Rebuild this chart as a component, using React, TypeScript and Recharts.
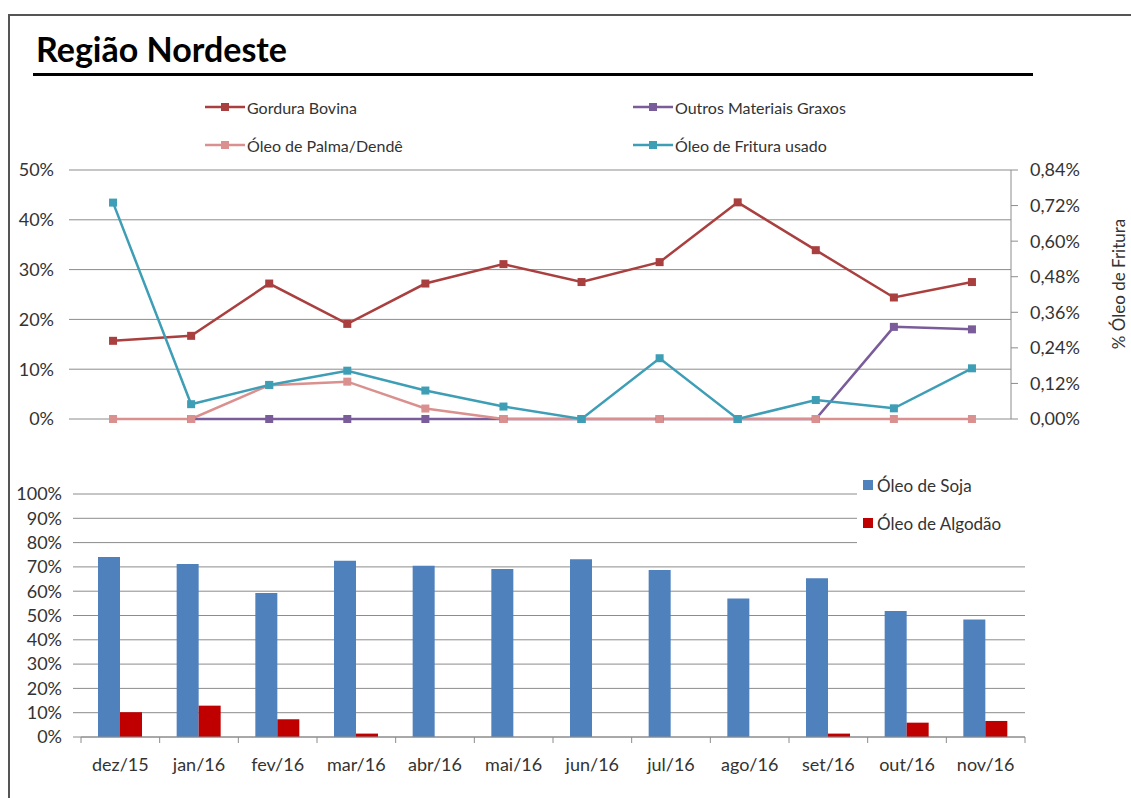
import React from 'react';
import { LineChart, Line, BarChart, Bar, XAxis, YAxis, CartesianGrid } from 'recharts';

const months = ['dez/15', 'jan/16', 'fev/16', 'mar/16', 'abr/16', 'mai/16', 'jun/16', 'jul/16', 'ago/16', 'set/16', 'out/16', 'nov/16'];

// top chart (% on left axis, Óleo de Fritura on right axis)
const gorduraBovina = [15.7, 16.7, 27.2, 19.1, 27.2, 31.1, 27.5, 31.5, 43.5, 33.9, 24.4, 27.5];
const outrosMateriais = [null, 0, 0, 0, 0, 0, 0, 0, 0, 0, 18.5, 18.0];
const palmaDende = [0, 0, 6.8, 7.5, 2.1, 0, 0, 0, 0, 0, 0, 0];
const frituraUsado = [0.73, 0.05, 0.115, 0.163, 0.096, 0.042, 0, 0.205, 0, 0.064, 0.036, 0.171];

// bottom chart
const oleoSoja = [74.1, 71.2, 59.3, 72.5, 70.5, 69.1, 73.1, 68.7, 57.0, 65.3, 51.9, 48.4];
const oleoAlgodao = [10.2, 12.9, 7.3, 1.4, 0, 0, 0, 0, 0, 1.4, 5.9, 6.6];

const leftTicks = [0, 10, 20, 30, 40, 50];
const rightTicks = [0, 0.12, 0.24, 0.36, 0.48, 0.6, 0.72, 0.84];
const barTicks = [0, 10, 20, 30, 40, 50, 60, 70, 80, 90, 100];

const lineSeries = [
  { key: 'gordura', name: 'Gordura Bovina', color: '#A9403F', axis: 'left' },
  { key: 'outros', name: 'Outros Materiais Graxos', color: '#7A5C9A', axis: 'left' },
  { key: 'palma', name: 'Óleo de Palma/Dendê', color: '#D9908E', axis: 'left' },
  { key: 'fritura', name: 'Óleo de Fritura usado', color: '#3E9EB6', axis: 'right' },
];

const lineData = months.map((m, i) => ({
  month: m,
  gordura: gorduraBovina[i],
  outros: outrosMateriais[i],
  palma: palmaDende[i],
  fritura: frituraUsado[i],
}));

const barData = months.map((m, i) => ({ month: m, soja: oleoSoja[i], algodao: oleoAlgodao[i] }));

const SOJA = '#4F81BD';
const ALGODAO = '#C00000';
const GRID = '#8c8c8c';
const TXT = '#333';
const FONT = "Lato, 'Open Sans', sans-serif";

const squareDot = (color: string) => (props: any) => {
  const { cx, cy, index, value } = props;
  if (value == null || cx == null || cy == null || isNaN(cy)) return <g key={index} />;
  return <rect key={index} x={cx - 4} y={cy - 4} width={8} height={8} fill={color} />;
};

const LINE_W = 1131;
const LINE_MARGIN = { top: 20, right: 40, bottom: 21, left: 14 };
const linePad = (LINE_W - LINE_MARGIN.left - LINE_MARGIN.right - 60 - 80) / months.length / 2;

const BAR_W = 1131;
const BAR_MARGIN = { top: 24, right: 106, bottom: 23, left: 11 };
const BAR_YAXIS_W = 70;
const X_TICK_SIZE = 6;
const X_TICK_MARGIN = 15;
const band = (BAR_W - BAR_MARGIN.left - BAR_MARGIN.right - BAR_YAXIS_W) / months.length;

const MonthTick = (props: any) => {
  const { x, y, payload, index } = props;
  const axisY = y - X_TICK_SIZE - X_TICK_MARGIN;
  return (
    <g>
      <line x1={x - band / 2} x2={x - band / 2} y1={axisY} y2={axisY + 6} stroke={GRID} />
      {index === months.length - 1 && (
        <line x1={x + band / 2} x2={x + band / 2} y1={axisY} y2={axisY + 6} stroke={GRID} />
      )}
      <text x={x} y={y} dy="0.71em" textAnchor="middle" fontSize={18} fill={TXT}>
        {payload.value}
      </text>
    </g>
  );
};

const fmtRight = (v: number) => `${v.toFixed(2).replace('.', ',')}%`;

export default function App() {
  return (
    <div style={{ position: 'absolute', left: 0, top: 0, width: 1131, height: 798, background: '#fff', fontFamily: FONT, color: TXT }}>
      {/* frame */}
      <div style={{ position: 'absolute', left: 8, top: 14, width: 1123, height: 1.5, background: '#555' }} />
      <div style={{ position: 'absolute', left: 8, top: 14, width: 1.5, height: 784, background: '#555' }} />

      {/* title */}
      <div style={{ position: 'absolute', left: 36, top: 29, fontSize: 34, fontWeight: 700, lineHeight: '40px', color: '#000' }}>
        Região Nordeste
      </div>
      <div style={{ position: 'absolute', left: 33, top: 73, width: 1000, height: 3, background: '#000' }} />

      {/* top legend */}
      {lineSeries.map((s, i) => {
        const left = i % 2 === 0 ? 205 : 633;
        const top = i < 2 ? 107 : 145;
        return (
          <div key={s.key} style={{ position: 'absolute', left, top: top - 10, height: 20, display: 'flex', alignItems: 'center' }}>
            <svg width={40} height={20}>
              <line x1={0} x2={40} y1={10} y2={10} stroke={s.color} strokeWidth={2.5} />
              <rect x={16} y={6} width={8} height={8} fill={s.color} />
            </svg>
            <span style={{ marginLeft: 2, fontSize: 16 }}>{s.name}</span>
          </div>
        );
      })}

      {/* top chart */}
      <div style={{ position: 'absolute', left: 0, top: 150 }}>
        <LineChart width={LINE_W} height={290} data={lineData} margin={LINE_MARGIN}>
          <CartesianGrid yAxisId="left" vertical={false} stroke={GRID} />
          <XAxis dataKey="month" hide padding={{ left: linePad, right: linePad }} />
          <YAxis
            yAxisId="left"
            domain={[0, 50]}
            ticks={leftTicks}
            interval={0}
            width={60}
            axisLine={false}
            tickLine={{ stroke: GRID }}
            tickSize={5}
            tickMargin={15}
            tick={{ fontSize: 18, fill: TXT }}
            tickFormatter={(v) => `${v}%`}
          />
          <YAxis
            yAxisId="right"
            orientation="right"
            domain={[0, 0.84]}
            ticks={rightTicks}
            interval={0}
            width={80}
            axisLine={{ stroke: GRID }}
            tickLine={{ stroke: GRID }}
            tickSize={7}
            tickMargin={12}
            tick={{ fontSize: 18, fill: TXT }}
            tickFormatter={fmtRight}
          />
          {lineSeries.map((s) => (
            <Line
              key={s.key}
              yAxisId={s.axis}
              type="linear"
              dataKey={s.key}
              name={s.name}
              stroke={s.color}
              strokeWidth={2.5}
              dot={squareDot(s.color)}
              activeDot={false}
              isAnimationActive={false}
            />
          ))}
        </LineChart>
      </div>
      <div
        style={{
          position: 'absolute',
          left: 1118,
          top: 284,
          fontSize: 17,
          whiteSpace: 'nowrap',
          transform: 'translate(-50%, -50%) rotate(-90deg)',
        }}
      >
        % Óleo de Fritura
      </div>

      {/* bottom chart */}
      <div style={{ position: 'absolute', left: 0, top: 470 }}>
        <BarChart width={BAR_W} height={330} data={barData} margin={BAR_MARGIN} barGap={0} barSize={22}>
          <CartesianGrid vertical={false} stroke={GRID} />
          <XAxis
            dataKey="month"
            height={40}
            axisLine={{ stroke: GRID }}
            tickLine={false}
            tickSize={X_TICK_SIZE}
            tickMargin={X_TICK_MARGIN}
            tick={<MonthTick />}
            interval={0}
          />
          <YAxis
            domain={[0, 100]}
            ticks={barTicks}
            interval={0}
            width={BAR_YAXIS_W}
            axisLine={false}
            tickLine={{ stroke: GRID }}
            tickSize={8}
            tickMargin={11}
            tick={{ fontSize: 18, fill: TXT }}
            tickFormatter={(v) => `${v}%`}
          />
          <Bar dataKey="soja" name="Óleo de Soja" fill={SOJA} isAnimationActive={false} />
          <Bar dataKey="algodao" name="Óleo de Algodão" fill={ALGODAO} isAnimationActive={false} />
        </BarChart>
      </div>

      {/* bottom legend */}
      <div style={{ position: 'absolute', left: 857, top: 472, width: 185, height: 76, background: '#fff' }}>
        {[
          { name: 'Óleo de Soja', color: SOJA, y: 13 },
          { name: 'Óleo de Algodão', color: ALGODAO, y: 51 },
        ].map((e) => (
          <div key={e.name} style={{ position: 'absolute', left: 6, top: e.y - 11, height: 22, display: 'flex', alignItems: 'center' }}>
            <div style={{ width: 10, height: 10, background: e.color }} />
            <span style={{ marginLeft: 4, fontSize: 17 }}>{e.name}</span>
          </div>
        ))}
      </div>
    </div>
  );
}
